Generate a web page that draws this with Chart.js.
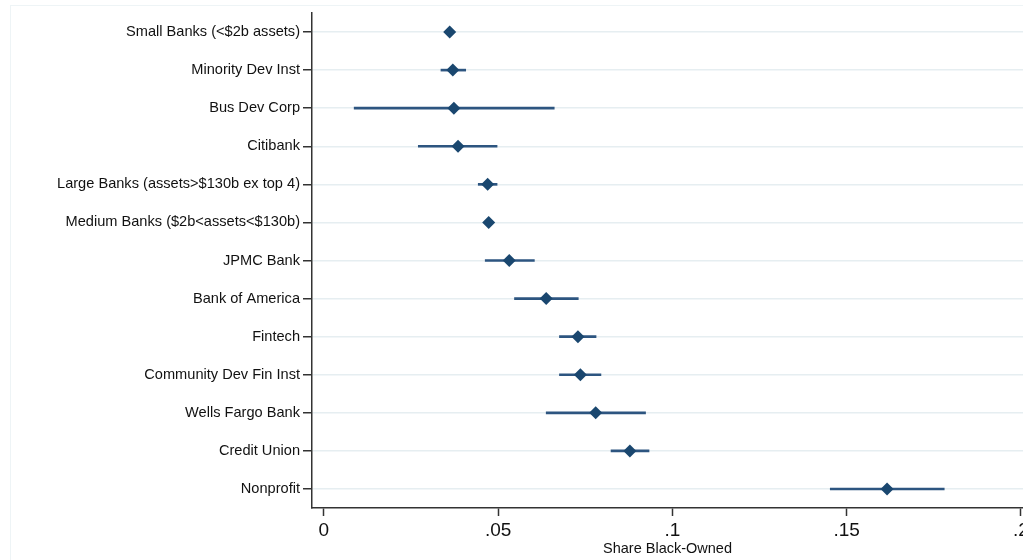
<!DOCTYPE html>
<html>
<head>
<meta charset="utf-8">
<script src="https://cdn.jsdelivr.net/npm/chart.js@4"></script>
<style>
  html, body { margin: 0; padding: 0; background: #fff; }
  #wrap { position: relative; width: 1023px; height: 560px; }
  #frame { position: absolute; left: 10px; top: 5px; right: 0; bottom: 0;
           border-left: 1px solid #eef4f6; border-top: 1px solid #eef4f6; }
  #chart { position: absolute; left: 0; top: 0; }
</style>
</head>
<body>
<div id="wrap">
  <div id="frame"></div>
  <canvas id="chart" width="1023" height="560"></canvas>
</div>
<script>
// lender types, top to bottom
const lenders = [
  'Small Banks (<$2b assets)',
  'Minority Dev Inst',
  'Bus Dev Corp',
  'Citibank',
  'Large Banks (assets>$130b ex top 4)',
  'Medium Banks ($2b<assets<$130b)',
  'JPMC Bank',
  'Bank of America',
  'Fintech',
  'Community Dev Fin Inst',
  'Wells Fargo Bank',
  'Credit Union',
  'Nonprofit'
]

// share black-owned, point estimate and confidence interval
const shareBlack = [0.0361, 0.0370, 0.0373, 0.0385, 0.0470, 0.0473, 0.0532, 0.0638, 0.0729, 0.0736, 0.0780, 0.0878, 0.1616]
const ciLow      = [0.0356, 0.0336, 0.0087, 0.0271, 0.0443, 0.0468, 0.0463, 0.0547, 0.0676, 0.0676, 0.0638, 0.0824, 0.1453]
const ciHigh     = [0.0366, 0.0407, 0.0661, 0.0497, 0.0497, 0.0478, 0.0604, 0.0730, 0.0781, 0.0795, 0.0923, 0.0933, 0.1780]

const xTicks = [0, 0.05, 0.1, 0.15, 0.2]
const xTickLabels = ['0', '.05', '.1', '.15', '.2']

const navy = '#1a476f'
const axisColor = '#333333'
const gridColor = '#e6eef1'
const fontFamily = 'Liberation Sans, Arial, sans-serif'

const ciBars = lenders.map((_, i) => [ciLow[i], ciHigh[i]])

const config = {
  data: {
    labels: lenders,
    datasets: [
      {
        type: 'line',
        indexAxis: 'y',
        data: shareBlack,
        showLine: false,
        pointStyle: 'rectRot',
        pointRadius: 6.5,
        pointBackgroundColor: navy,
        pointBorderColor: navy,
        pointBorderWidth: 0,
        clip: false,
        order: 1
      },
      {
        type: 'bar',
        indexAxis: 'y',
        data: ciBars,
        backgroundColor: '#2d5580',
        borderWidth: 0,
        barThickness: 2,
        order: 2
      }
    ]
  },
  options: {
    indexAxis: 'y',
    responsive: false,
    animation: false,
    layout: { autoPadding: false, padding: { top: 13, left: 0, right: 0, bottom: 0 } },
    plugins: {
      legend: { display: false },
      tooltip: { enabled: false }
    },
    scales: {
      x: {
        type: 'linear',
        position: 'bottom',
        min: -0.0034,
        max: 0.2006,
        afterBuildTicks: (scale) => { scale.ticks = xTicks.map(v => ({ value: v })) },
        ticks: {
          autoSkip: false,
          maxRotation: 0,
          padding: 3,
          color: '#111',
          font: { family: fontFamily, size: 19 },
          callback: (value) => xTickLabels[xTicks.indexOf(value)]
        },
        grid: {
          drawOnChartArea: false,
          drawTicks: true,
          tickLength: 8,
          tickWidth: 1.5,
          tickColor: axisColor
        },
        border: { display: true, color: axisColor, width: 1.5 },
        title: {
          display: true,
          text: 'Share Black-Owned',
          color: '#111',
          font: { family: fontFamily, size: 14.5 },
          padding: { top: 0, bottom: 2 }
        },
        afterFit: (scale) => {
          scale.height = 52
          scale.paddingLeft = 0
          scale.paddingRight = 0
        }
      },
      y: {
        type: 'category',
        position: 'left',
        offset: true,
        ticks: {
          autoSkip: false,
          padding: 3,
          color: '#111',
          font: { family: fontFamily, size: 14.6 }
        },
        grid: {
          offset: false,
          color: gridColor,
          lineWidth: 1.5,
          drawTicks: true,
          tickLength: 9,
          tickWidth: 1.5,
          tickColor: axisColor
        },
        border: { display: true, color: axisColor, width: 1.5 },
        afterFit: (scale) => {
          scale.width = 312
          scale.paddingTop = 0
          scale.paddingBottom = 0
        }
      }
    }
  }
}

new Chart(document.getElementById('chart'), config)
</script>
</body>
</html>
